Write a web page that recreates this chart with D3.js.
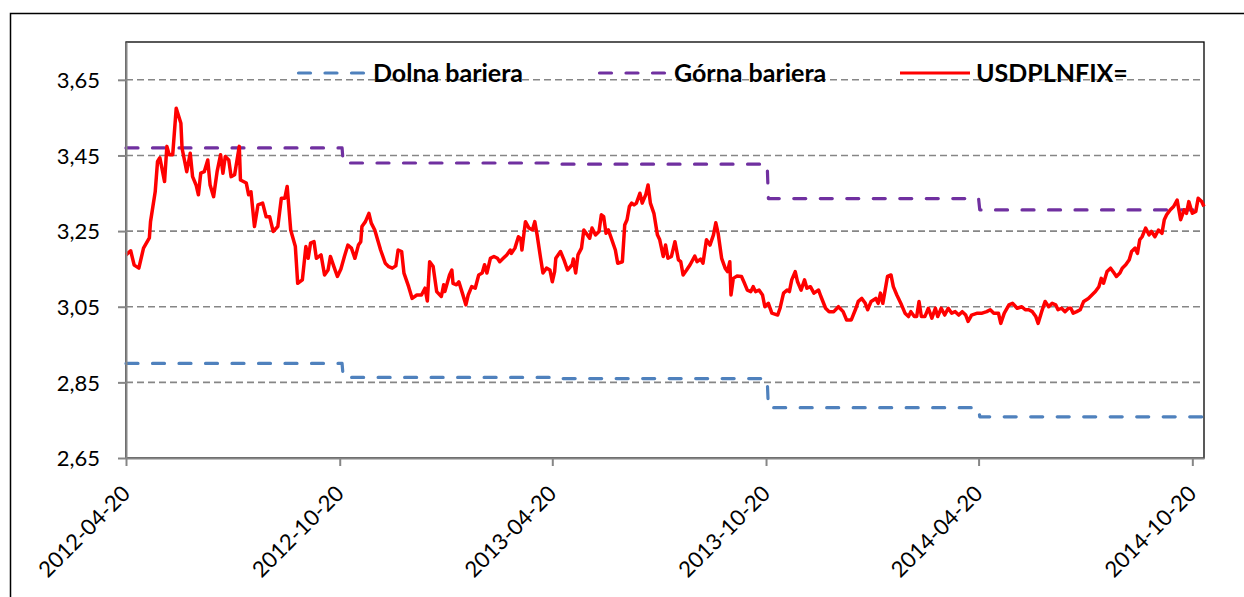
<!DOCTYPE html>
<html>
<head>
<meta charset="utf-8">
<script src="https://cdn.jsdelivr.net/npm/d3@7"></script>
<style>
  body { margin: 0; background: #fff; }
  svg { display: block; font-family: Lato, 'Open Sans', sans-serif; }
</style>
</head>
<body>
<svg width="1244" height="597"></svg>
<script>
var svg = d3.select('svg'),
  width = +svg.attr('width'),
  height = +svg.attr('height');

// first fixing date; every series below counts days from it
var startDate = '2012-04-20';
var lastDay = 923;

var xTickLabels = ['2012-04-20', '2012-10-20', '2013-04-20', '2013-10-20', '2014-04-20', '2014-10-20'];
var yTickValues = [2.65, 2.85, 3.05, 3.25, 3.45, 3.65];

var seriesNames = ['Dolna bariera', 'Górna bariera', 'USDPLNFIX='];

// barriers (days after start, level)
var lowerDays = [0, 185, 186, 365, 366, 549, 550, 730, 731, 923];
var lowerValues = [2.900, 2.900, 2.863, 2.863, 2.860, 2.860, 2.783, 2.783, 2.759, 2.759];
var upperDays = [0, 185, 186, 365, 366, 549, 550, 730, 731, 923];
var upperValues = [3.470, 3.470, 3.430, 3.430, 3.427, 3.427, 3.336, 3.336, 3.306, 3.306];

// USD/PLN fixing (days after start, rate)
var fixingDays = [
  0, 4, 7, 11, 15, 20, 21, 25, 27, 29, 33, 35, 37, 40, 43, 47, 48, 52, 55, 57,
  60, 62, 64, 67, 70, 72, 75, 78, 81, 83, 85, 88, 90, 93, 97, 98, 103, 105, 107, 110,
  113, 117, 120, 123, 126, 130, 133, 136, 138, 141, 145, 147, 151, 154, 156, 158, 161, 163, 167, 170,
  173, 175, 178, 181, 184, 187, 190, 193, 196, 199, 201, 202, 205, 208, 210, 213, 218, 222, 225, 228,
  231, 233, 236, 238, 242, 245, 249, 253, 256, 258, 260, 263, 266, 270, 272, 273, 277, 279, 280, 283,
  285, 288, 291, 293, 296, 299, 302, 305, 307, 309, 312, 315, 318, 320, 323, 326, 329, 330, 333, 336,
  338, 339, 342, 345, 348, 350, 352, 355, 357, 360, 363, 365, 367, 368, 372, 375, 378, 382, 383, 385,
  387, 390, 392, 395, 397, 399, 402, 405, 407, 409, 411, 413, 416, 419, 421, 425, 427, 429, 431, 433,
  435, 437, 440, 442, 445, 447, 449, 452, 455, 457, 460, 462, 464, 467, 470, 473, 475, 477, 480, 483,
  487, 489, 492, 494, 497, 500, 503, 505, 507, 510, 513, 515, 517, 518, 520, 523, 527, 529, 532, 535,
  537, 539, 542, 545, 547, 550, 553, 558, 560, 563, 566, 568, 570, 573, 575, 578, 581, 583, 586, 589,
  593, 595, 599, 602, 606, 610, 614, 617, 621, 625, 627, 630, 633, 635, 638, 642, 644, 646, 648, 650,
  652, 655, 657, 660, 664, 667, 670, 672, 675, 677, 679, 681, 684, 687, 690, 693, 695, 698, 701, 704,
  707, 710, 713, 716, 719, 721, 724, 729, 733, 737, 740, 743, 747, 749, 752, 756, 759, 763, 767, 770,
  773, 776, 779, 781, 784, 787, 790, 793, 796, 798, 801, 804, 807, 809, 811, 814, 817, 820, 824, 827,
  830, 833, 835, 837, 840, 843, 846, 848, 851, 853, 856, 859, 861, 864, 866, 868, 870, 873, 876, 878,
  881, 884, 887, 889, 891, 894, 897, 900, 903, 906, 908, 910, 913, 916, 918, 921, 923
];
var fixingValues = [
  3.187, 3.198, 3.160, 3.152, 3.205, 3.232, 3.275, 3.354, 3.434, 3.444, 3.381, 3.474, 3.452, 3.452, 3.575, 3.535, 3.469, 3.407, 3.456, 3.394,
  3.372, 3.346, 3.403, 3.407, 3.438, 3.372, 3.341, 3.407, 3.452, 3.403, 3.447, 3.438, 3.394, 3.399, 3.474, 3.385, 3.377, 3.346, 3.354, 3.262,
  3.319, 3.324, 3.288, 3.288, 3.249, 3.262, 3.337, 3.337, 3.368, 3.253, 3.209, 3.112, 3.121, 3.209, 3.178, 3.218, 3.222, 3.178, 3.187, 3.134,
  3.147, 3.183, 3.156, 3.130, 3.150, 3.183, 3.213, 3.205, 3.178, 3.213, 3.222, 3.262, 3.275, 3.297, 3.271, 3.253, 3.200, 3.165, 3.156, 3.152,
  3.158, 3.200, 3.196, 3.139, 3.103, 3.072, 3.081, 3.081, 3.099, 3.065, 3.169, 3.156, 3.090, 3.077, 3.108, 3.090, 3.134, 3.147, 3.112, 3.108,
  3.116, 3.086, 3.055, 3.081, 3.103, 3.099, 3.134, 3.139, 3.161, 3.139, 3.178, 3.183, 3.178, 3.169, 3.178, 3.187, 3.200, 3.191, 3.205, 3.235,
  3.230, 3.200, 3.275, 3.258, 3.253, 3.275, 3.240, 3.178, 3.139, 3.152, 3.147, 3.116, 3.143, 3.178, 3.196, 3.174, 3.147, 3.161, 3.176, 3.139,
  3.187, 3.205, 3.253, 3.240, 3.231, 3.258, 3.240, 3.249, 3.293, 3.288, 3.244, 3.253, 3.227, 3.200, 3.165, 3.169, 3.266, 3.280, 3.315, 3.324,
  3.319, 3.324, 3.350, 3.324, 3.346, 3.372, 3.324, 3.297, 3.240, 3.227, 3.183, 3.213, 3.178, 3.183, 3.222, 3.174, 3.169, 3.134, 3.147, 3.161,
  3.184, 3.169, 3.176, 3.165, 3.227, 3.213, 3.240, 3.272, 3.244, 3.178, 3.152, 3.143, 3.169, 3.081, 3.125, 3.131, 3.130, 3.116, 3.094, 3.090,
  3.103, 3.090, 3.094, 3.081, 3.050, 3.059, 3.033, 3.028, 3.046, 3.086, 3.094, 3.090, 3.121, 3.143, 3.116, 3.094, 3.121, 3.099, 3.103, 3.086,
  3.094, 3.077, 3.046, 3.037, 3.037, 3.050, 3.037, 3.015, 3.015, 3.046, 3.064, 3.072, 3.059, 3.042, 3.064, 3.072, 3.059, 3.086, 3.059, 3.094,
  3.130, 3.134, 3.103, 3.081, 3.055, 3.033, 3.024, 3.037, 3.024, 3.024, 3.064, 3.024, 3.024, 3.046, 3.020, 3.046, 3.024, 3.046, 3.028, 3.046,
  3.033, 3.037, 3.028, 3.037, 3.028, 3.011, 3.028, 3.033, 3.033, 3.037, 3.042, 3.033, 3.033, 3.006, 3.033, 3.055, 3.059, 3.046, 3.050, 3.042,
  3.042, 3.037, 3.024, 3.006, 3.037, 3.064, 3.050, 3.059, 3.055, 3.042, 3.046, 3.037, 3.046, 3.046, 3.033, 3.037, 3.042, 3.064, 3.072, 3.081,
  3.090, 3.103, 3.125, 3.112, 3.143, 3.152, 3.139, 3.130, 3.139, 3.152, 3.161, 3.174, 3.196, 3.205, 3.191, 3.227, 3.235, 3.258, 3.240, 3.249,
  3.235, 3.253, 3.244, 3.280, 3.293, 3.306, 3.315, 3.332, 3.280, 3.306, 3.297, 3.328, 3.297, 3.302, 3.337, 3.328, 3.315
];

var parseDate = d3.timeParse('%Y-%m-%d');
var start = parseDate(startDate);

function toPoints(days, values) {
  return days.map(function(d, i) {
    return { date: d3.timeDay.offset(start, d), value: values[i] };
  });
}

var lower = toPoints(lowerDays, lowerValues);
var upper = toPoints(upperDays, upperValues);
var fixing = toPoints(fixingDays, fixingValues);

var margin = { left: 126, top: 42, right: 1204, bottom: 458 };

var x = d3.scaleTime()
  .domain([start, d3.timeDay.offset(start, lastDay)])
  .range([margin.left, margin.right]);

var y = d3.scaleLinear()
  .domain([2.65, 3.75])
  .range([margin.bottom, margin.top]);

var pl = d3.formatLocale({ decimal: ',', thousands: ' ', grouping: [3], currency: ['', ' zł'] });
var fmt = pl.format('.2f');

var axisGray = '#868686';

// outer chart frame
svg.append('rect')
  .attr('x', 10.5)
  .attr('y', 13.5)
  .attr('width', 1245)
  .attr('height', 600)
  .attr('fill', '#fff')
  .attr('stroke', '#000')
  .attr('stroke-width', 1.5);

// plot area frame
svg.append('rect')
  .attr('x', margin.left)
  .attr('y', margin.top)
  .attr('width', margin.right - margin.left)
  .attr('height', margin.bottom - margin.top)
  .attr('fill', 'none')
  .attr('stroke', '#000')
  .attr('stroke-width', 1.3);

// gridlines
svg.append('g')
  .attr('class', 'grid')
  .selectAll('line')
  .data(yTickValues.slice(1))
  .enter()
  .append('line')
  .attr('x1', margin.left)
  .attr('x2', margin.right)
  .attr('y1', function(d) { return y(d); })
  .attr('y2', function(d) { return y(d); })
  .attr('stroke', axisGray)
  .attr('stroke-width', 1.6)
  .attr('stroke-dasharray', '7,4');

var line = d3.line()
  .x(function(d) { return x(d.date); })
  .y(function(d) { return y(d.value); });

var colors = ['#4F81BD', '#7030A0', '#FF0000'];
var dashes = ['12,14.5', '12,14.5', null];

svg.append('g')
  .attr('class', 'lines')
  .selectAll('path')
  .data([lower, upper, fixing])
  .enter()
  .append('path')
  .attr('d', line)
  .attr('fill', 'none')
  .attr('stroke', function(d, i) { return colors[i]; })
  .attr('stroke-width', function(d, i) { return i == 2 ? 3.5 : 3.2; })
  .attr('stroke-dasharray', function(d, i) { return dashes[i]; })
  .attr('stroke-linecap', function(d, i) { return i == 2 ? 'butt' : 'round'; })
  .attr('stroke-linejoin', 'round');

// axes
var xAxis = d3.axisBottom(x)
  .tickValues(xTickLabels.map(parseDate))
  .tickFormat(d3.timeFormat('%Y-%m-%d'))
  .tickSize(8)
  .tickSizeOuter(0);

var yAxis = d3.axisLeft(y)
  .tickValues(yTickValues)
  .tickFormat(fmt)
  .tickSize(8)
  .tickSizeOuter(0);

var gx = svg.append('g')
  .attr('transform', 'translate(0,' + margin.bottom + ')')
  .call(xAxis);

var gy = svg.append('g')
  .attr('transform', 'translate(' + margin.left + ',0)')
  .call(yAxis);

[gx, gy].forEach(function(g) {
  g.select('.domain').attr('stroke', axisGray).attr('stroke-width', 2);
  g.selectAll('.tick line').attr('stroke', axisGray).attr('stroke-width', 2);
  g.selectAll('.tick text')
    .attr('fill', '#000')
    .style('font-size', '22px')
    .style('font-family', 'Lato, sans-serif');
});

gy.selectAll('.tick text')
  .attr('x', -26)
  .attr('dy', '0.35em');

gx.selectAll('.tick text')
  .attr('y', 0)
  .attr('dy', 0)
  .attr('text-anchor', 'end')
  .attr('transform', 'translate(5,37) rotate(-45)');

// legend
var legendX = [297, 598, 900];
var legend = svg.append('g')
  .attr('class', 'legend')
  .selectAll('g')
  .data(seriesNames)
  .enter()
  .append('g')
  .attr('transform', function(d, i) { return 'translate(' + legendX[i] + ',73)'; });

legend.append('line')
  .attr('x1', function(d, i) { return i == 2 ? 0 : 1.5; })
  .attr('x2', 70)
  .attr('stroke', function(d, i) { return colors[i]; })
  .attr('stroke-width', 3.2)
  .attr('stroke-dasharray', function(d, i) { return dashes[i]; })
  .attr('stroke-linecap', function(d, i) { return i == 2 ? 'butt' : 'round'; });

legend.append('text')
  .attr('x', 76)
  .attr('dy', '0.36em')
  .style('font-size', '25px')
  .style('font-weight', 'bold')
  .text(function(d) { return d; });
</script>
</body>
</html>
